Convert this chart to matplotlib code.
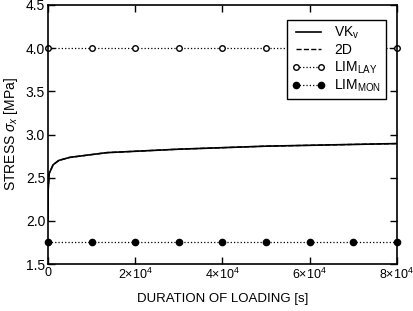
import matplotlib
matplotlib.use("Agg")
import matplotlib.pyplot as plt
from matplotlib.ticker import FuncFormatter, MultipleLocator

plt.rcParams['font.family'] = ['Liberation Sans', 'DejaVu Sans']
plt.rcParams['mathtext.fontset'] = 'custom'
plt.rcParams['mathtext.rm'] = 'Liberation Sans'
plt.rcParams['mathtext.it'] = 'Liberation Sans:italic'
plt.rcParams['font.size'] = 8.5

# VK_v creep curve, 2D coincides with it
t_vk = [0, 50, 300, 1200, 2500, 5000, 13500, 30000, 50000, 80000]
s_vk = [2.0, 2.35, 2.55, 2.65, 2.70, 2.735, 2.79, 2.83, 2.865, 2.895]
t_2d = t_vk
s_2d = s_vk

# limit lines
t_lim = [0, 10000, 20000, 30000, 40000, 50000, 60000, 70000, 80000]
lim_lay = [4.0] * len(t_lim)
lim_mon = [1.76] * len(t_lim)

fig = plt.figure(figsize=(4.13, 3.11), dpi=100)
ax = fig.add_axes([0.116, 0.151, 0.845, 0.833])

ax.plot(t_2d, s_2d, 'k--', lw=1.0, label='2D')
ax.plot(t_vk, s_vk, 'k-', lw=1.2, label=r'VK$_\mathrm{v}$')
ax.plot(t_lim, lim_lay, 'k:', lw=0.9, marker='o', ms=4, mfc='white',
        mec='black', mew=1.0, clip_on=False, label=r'LIM$_\mathrm{LAY}$')
ax.plot(t_lim, lim_mon, 'k:', lw=0.9, marker='o', ms=4.5, mfc='black',
        mec='black', clip_on=False, label=r'LIM$_\mathrm{MON}$')

ax.set_xlim(0, 80000)
ax.set_ylim(1.5, 4.5)
ax.xaxis.set_major_locator(MultipleLocator(20000))
ax.yaxis.set_major_locator(MultipleLocator(0.5))

def xfmt(v, pos):
    if v == 0:
        return '0'
    return r'$%d{\times}10^4$' % round(v / 1e4)

ax.xaxis.set_major_formatter(FuncFormatter(xfmt))
ax.yaxis.set_major_formatter(FuncFormatter(lambda v, p: '%.1f' % v))
ax.tick_params(direction='in', length=5, width=1, top=True, right=True,
               labelsize=10, pad=2)
ax.tick_params(axis='x', labelsize=9)
for sp in ax.spines.values():
    sp.set_linewidth(1.2)

ax.set_xlabel('DURATION OF LOADING [s]', fontsize=9.5, labelpad=8)
ax.set_ylabel(r'STRESS $\sigma_x$ [MPa]', fontsize=10, labelpad=4)

h, l = ax.get_legend_handles_labels()
order = [1, 0, 2, 3]
leg = ax.legend([h[i] for i in order], [l[i] for i in order],
                loc='upper right', bbox_to_anchor=(0.968, 0.942),
                numpoints=2, fancybox=False, framealpha=1, edgecolor='black',
                fontsize=10, handlelength=2.4, handletextpad=0.6,
                labelspacing=0.15, borderpad=0.35, borderaxespad=0)
leg.get_frame().set_linewidth(1.0)

fig.savefig('out.png', dpi=100)
